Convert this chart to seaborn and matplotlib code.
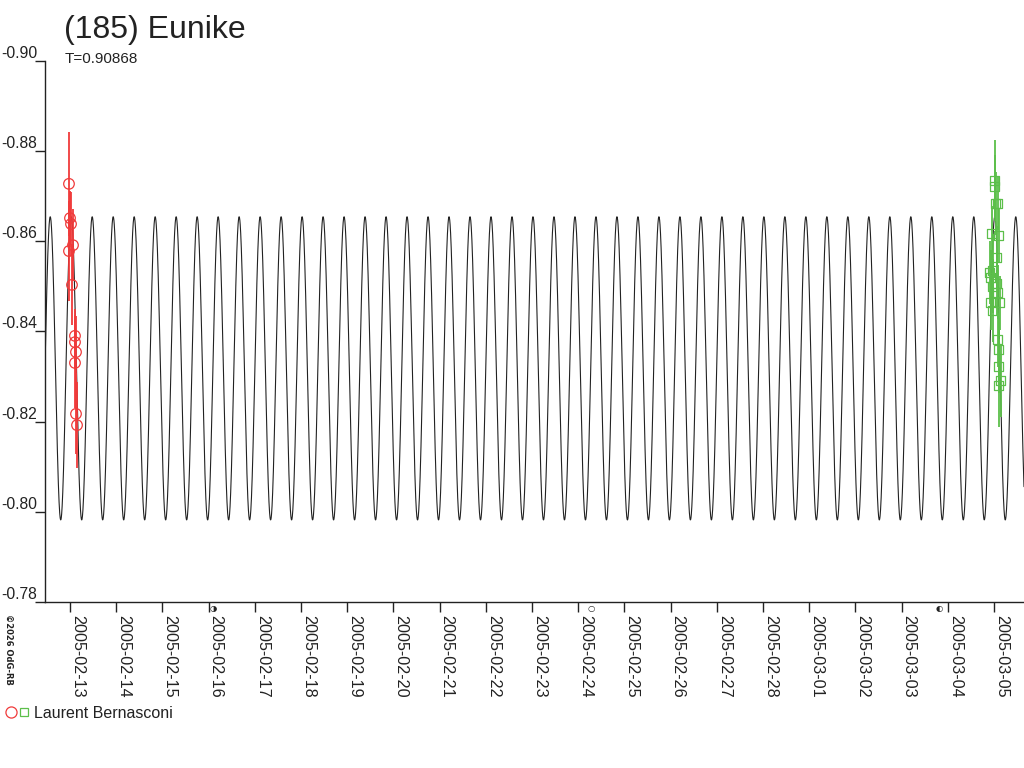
"""Lightcurve of (185) Eunike with the fitted period model."""
import matplotlib
matplotlib.use("Agg")
import matplotlib.pyplot as plt
import matplotlib.dates as mdates
from matplotlib.legend_handler import HandlerTuple
from matplotlib.lines import Line2D
import numpy as np
import pandas as pd
import seaborn as sns

# --- data ----------------------------------------------------------------
ORIGIN = pd.Timestamp("2005-02-13")
TITLE = "(185) Eunike"
PERIOD_TEXT = "T=0.90868"
OBSERVER = "Laurent Bernasconi"
COPYRIGHT = "©2026 OdG-RB"

# fitted model (days, mag)
period = 0.90868
model_mean = -0.8318
model_amp = 0.0336
model_peak_day = -0.428

# session 1 (red circles), days after 2005-02-13 00:00 UT
red_day = [-0.022, 0.000, 0.022, 0.065, -0.022, 0.043,
           0.108, 0.108, 0.130, 0.108, 0.130, 0.152]
red_mag = [-0.8727, -0.8651, -0.8638, -0.8591, -0.8578, -0.8503,
           -0.8390, -0.8376, -0.8354, -0.8330, -0.8217, -0.8192]
red_err = [0.0115, 0.0060, 0.0070, 0.0080, 0.0110, 0.0090,
           0.0060, 0.0060, 0.0080, 0.0100, 0.0090, 0.0095]

# session 2 (green squares)
green_day = [20.022, 20.022, 20.043, 20.087, 19.957, 20.108, 20.065,
             19.978, 19.913, 19.935, 20.065, 19.978, 20.087, 19.935,
             20.130, 19.978, 20.087, 20.108, 20.108, 20.152, 20.108]
green_mag = [-0.8735, -0.8722, -0.8684, -0.8684, -0.8618, -0.8613, -0.8563,
             -0.8536, -0.8531, -0.8520, -0.8507, -0.8500, -0.8487, -0.8463,
             -0.8463, -0.8447, -0.8381, -0.8359, -0.8323, -0.8290, -0.8279]
green_err = [0.0090, 0.0070, 0.0070, 0.0060, 0.0060, 0.0060, 0.0070,
             0.0080, 0.0070, 0.0060, 0.0070, 0.0060, 0.0060, 0.0060,
             0.0060, 0.0070, 0.0060, 0.0070, 0.0060, 0.0080, 0.0090]

tick_dates = pd.date_range("2005-02-13", "2005-03-05", freq="D")
tick_labels = [d.strftime("%Y-%m-%d") for d in tick_dates]
y_ticks = [-0.90, -0.88, -0.86, -0.84, -0.82, -0.80, -0.78]

# moon phases marked under the axis
moon_times = ["2005-02-16 00:16", "2005-02-24 04:54", "2005-03-03 17:36"]
moon_signs = ["◑", "○", "◐"]

RED = "#f03a3a"
GREEN = "#5cbf4a"
INK = "#222222"


def main() -> None:
    sns.set_theme(style="white")
    plt.rcParams["font.family"] = ["Liberation Sans", "DejaVu Sans"]

    fig = plt.figure(figsize=(10.24, 7.68), dpi=100)
    ax = fig.add_axes([45 / 1024, 166 / 768, 979 / 1024, 541.3 / 768])

    x0 = -0.541
    x1 = 20.65
    t = np.linspace(x0, x1, 8000)
    model = model_mean - model_amp * np.cos(4 * np.pi * (t - model_peak_day) / period)
    model_df = pd.DataFrame({"date": ORIGIN + pd.to_timedelta(t, unit="D"), "mag": model})
    sns.lineplot(data=model_df, x="date", y="mag", color=INK, lw=0.8, ax=ax,
                 estimator=None, sort=False)

    red = pd.DataFrame({"date": ORIGIN + pd.to_timedelta(red_day, unit="D"),
                        "mag": red_mag, "err": red_err})
    green = pd.DataFrame({"date": ORIGIN + pd.to_timedelta(green_day, unit="D"),
                          "mag": green_mag, "err": green_err})

    ax.errorbar(red["date"], red["mag"], yerr=red["err"], fmt="none",
                ecolor=RED, elinewidth=1.3, capsize=0, zorder=3)
    ax.errorbar(green["date"], green["mag"], yerr=green["err"], fmt="none",
                ecolor=GREEN, elinewidth=1.3, capsize=0, zorder=3)
    sns.scatterplot(data=red, x="date", y="mag", marker="o", s=58,
                    facecolors="none", edgecolor=RED, linewidth=0.9, ax=ax, zorder=4)
    sns.scatterplot(data=green, x="date", y="mag", marker="s", s=42,
                    facecolors="none", edgecolor=GREEN, linewidth=0.9, ax=ax, zorder=4)

    ax.set_xlim(ORIGIN + pd.Timedelta(days=x0), ORIGIN + pd.Timedelta(days=x1))
    ax.set_ylim(-0.78, -0.90)
    ax.set_xlabel("")
    ax.set_ylabel("")

    for s in ["top", "right"]:
        ax.spines[s].set_visible(False)
    for s in ["left", "bottom"]:
        ax.spines[s].set_color(INK)
        ax.spines[s].set_linewidth(1.0)

    ax.set_yticks(y_ticks)
    ax.set_yticklabels([f"{v:.2f}" for v in y_ticks], va="bottom")
    ax.tick_params(axis="y", direction="out", length=7.2, width=1.0,
                   color=INK, pad=-1.6, labelsize=11.3, labelcolor=INK, left=True)

    ax.set_xticks(tick_dates)
    ax.set_xticklabels(tick_labels, rotation=-90, rotation_mode="anchor",
                       ha="left", va="bottom")
    ax.tick_params(axis="x", direction="out", length=7.2, width=1.0,
                   color=INK, pad=2.0, labelsize=11.6, labelcolor=INK, bottom=True)

    for when, sign in zip(moon_times, moon_signs):
        ax.text(mdates.date2num(pd.Timestamp(when)), -0.7795, sign,
                fontsize=6, ha="left", va="top", color=INK,
                family=["DejaVu Sans"])

    fig.text(64 / 1024, 1 - 38 / 768, TITLE, fontsize=23, color=INK,
             ha="left", va="baseline")
    fig.text(65 / 1024, 1 - 63 / 768, PERIOD_TEXT, fontsize=11, color=INK,
             ha="left", va="baseline")
    fig.text(4 / 1024, 1 - 614 / 768, COPYRIGHT, fontsize=6, color=INK,
             rotation=-90, ha="left", va="top", fontweight="bold",
             family=["DejaVu Sans"])

    h_red = Line2D([], [], ls="none", marker="o", ms=8, mfc="none", mec=RED, mew=0.9)
    h_green = Line2D([], [], ls="none", marker="s", ms=6, mfc="none", mec=GREEN, mew=0.9)
    fig.legend(handles=[(h_red, h_green)], labels=[OBSERVER],
               handler_map={tuple: HandlerTuple(ndivide=None, pad=0.25)},
               loc="center left", bbox_to_anchor=(-0.008, 1 - 713 / 768),
               frameon=False, fontsize=11.5, handlelength=1.4, handletextpad=0.35,
               labelcolor=INK)

    fig.savefig("out.png", dpi=100)
    plt.close(fig)


if __name__ == "__main__":
    main()
